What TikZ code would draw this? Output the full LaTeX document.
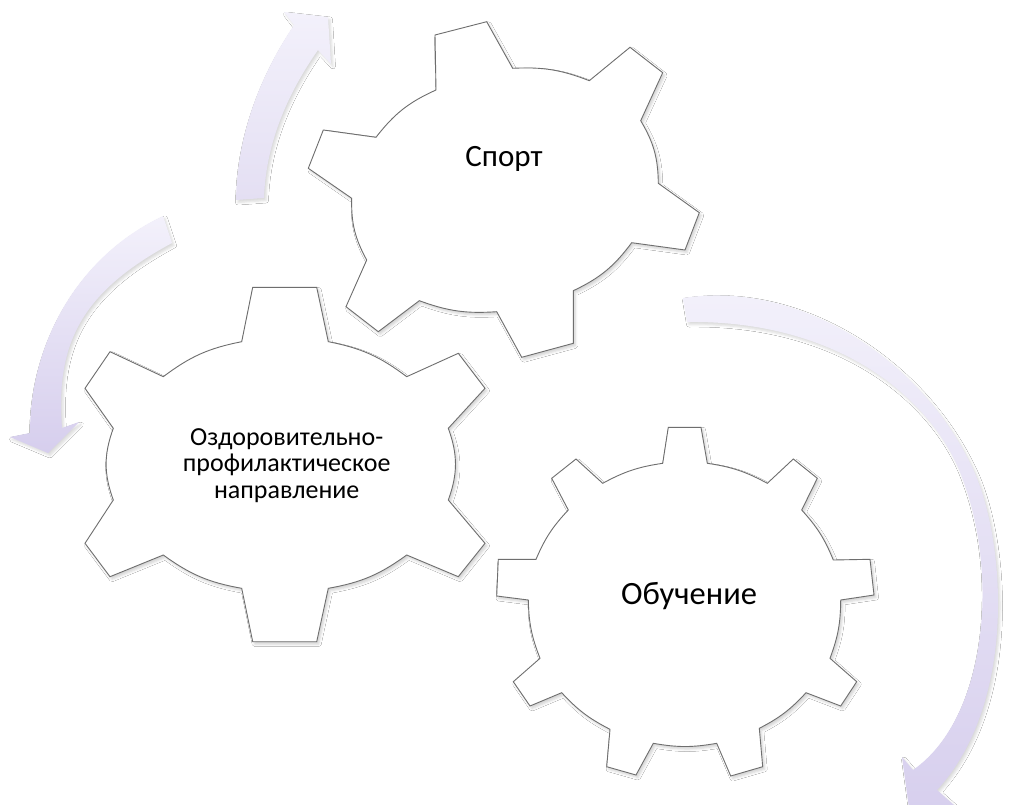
\documentclass[tikz,border=0pt]{standalone}
\usepackage{fontspec}
\setmainfont{Carlito}
\usetikzlibrary{shadows.blur}
\definecolor{arrowlight}{RGB}{243,241,251}
\definecolor{arrowmid}{RGB}{228,223,243}
\definecolor{arrowdark}{RGB}{214,206,237}
\definecolor{gearline}{RGB}{110,110,110}
\tikzset{
  gearshape/.style={draw=gearline, line width=0.9pt, fill=white, line join=miter,
    blur shadow={shadow xshift=2pt, shadow yshift=-2.5pt, shadow blur radius=2.5pt, shadow opacity=18}},
  cyclearrow/.style={draw=none,
    blur shadow={shadow xshift=2pt, shadow yshift=-2.5pt, shadow blur radius=2.5pt, shadow opacity=15}},
  geartext/.style={text=black, inner sep=0pt}
}
\begin{document}
\begin{tikzpicture}[x=1pt,y=1pt]
\useasboundingbox (0,0) rectangle (1009,-805);
\fill[white] (0,0) rectangle (1009,-805);
\begin{scope}
\clip (0,0) rectangle (1009,-805);
% arrow 1 (top, pointing up-right)
\shade[cyclearrow, top color=arrowlight, bottom color=arrowmid]
  (236,-200) .. controls (237,-140) and (257,-80) .. (294,-25)
  -- (284,-12) -- (328,-17) -- (331,-64) -- (318,-50)
  .. controls (290,-90) and (266,-140) .. (264,-198) -- cycle;
% arrow 2 (left, pointing down)
\shade[cyclearrow, top color=arrowlight, bottom color=arrowdark]
  (163,-216) .. controls (80,-255) and (30,-340) .. (30,-433)
  -- (10,-437) -- (48,-453) -- (79,-422) -- (62,-428)
  .. controls (55,-340) and (85,-290) .. (172,-243) -- cycle;
% arrow 3 (right, pointing down-left)
\shade[cyclearrow, top color=arrowlight, bottom color=arrowdark]
  (683,-298) .. controls (800,-280) and (920,-360) .. (970,-463)
  .. controls (1005,-530) and (1020,-700) .. (937,-790)
  -- (955,-806) -- (912,-830) -- (902,-757) -- (913,-770)
  .. controls (985,-720) and (1000,-580) .. (963,-480)
  .. controls (935,-400) and (840,-320) .. (687,-322) -- cycle;
\end{scope}
% gear: Оздоровительно-профилактическое направление
\path[gearshape]
  (241.7,-341.7) -- (252.7,-287.3) -- (316.7,-287.3) -- (328.3,-341.7)
  to[bend left=13] (406.7,-376.7) -- (458.3,-353.3) -- (485,-388.3) -- (448.3,-428.3)
  to[bend left=20] (448.3,-500) -- (485,-543.3) -- (458.3,-576.7) -- (406.7,-555)
  to[bend left=13] (328.3,-588.3) -- (316.7,-641.7) -- (252.7,-641.7) -- (241.7,-588.3)
  to[bend left=13] (163.3,-555) -- (110,-576.7) -- (85,-543.3) -- (113.3,-500)
  to[bend left=20] (113.3,-428.3) -- (85,-388.3) -- (110,-351.7) -- (163.3,-376.7)
  to[bend left=13] (241.7,-341.7) -- cycle;
% gear: Спорт
\path[gearshape]
  (436,-90) -- (435,-35) -- (486.7,-21.7) -- (512.7,-68.3)
  to[bend left=12] (589.3,-80.7) -- (630,-47.3) -- (662.7,-72.7) -- (640.7,-120.7)
  to[bend left=15] (658.3,-183.3) -- (699.3,-212.7) -- (685,-250) -- (631.7,-242.7)
  to[bend left=14] (573.3,-290.7) -- (573.3,-343.3) -- (521.7,-357.3) -- (496.7,-311.7)
  to[bend left=12] (419.3,-300.7) -- (378.3,-331.7) -- (346,-306.7) -- (366.7,-260)
  to[bend left=15] (351.7,-198.3) -- (308.3,-168.3) -- (323.3,-130) -- (376,-137.3)
  to[bend left=14] (436,-90) -- cycle;
% gear: Обучение
\path[gearshape]
  (662.7,-463.3) -- (668.3,-427.3) -- (701,-427.3) -- (707.3,-463.3)
  to[bend left=10] (767.3,-483.3) -- (793.3,-459) -- (817.3,-478.3) -- (801.7,-510)
  to[bend left=10] (833.3,-560) -- (870,-559.3) -- (874,-595) -- (840.7,-600)
  to[bend left=10] (830,-658.3) -- (856.7,-681.7) -- (840.7,-706) -- (806,-692.7)
  to[bend left=10] (759.3,-728.3) -- (762.7,-766.7) -- (730.7,-776) -- (716.7,-743.3)
  to[bend left=10] (653.3,-743.3) -- (636,-775) -- (606.7,-766.7) -- (610,-729.3)
  to[bend left=10] (561.7,-692.7) -- (530,-706) -- (513.3,-681.7) -- (540,-658.3)
  to[bend left=10] (528.3,-600) -- (496.7,-596) -- (498.3,-559.3) -- (536,-559.3)
  to[bend left=10] (568.3,-510) -- (551.7,-478.3) -- (576,-459) -- (602.7,-483.3)
  to[bend left=10] (662.7,-463.3) -- cycle;
% texts
\node[geartext, anchor=base, font=\fontsize{31}{36}\selectfont] (sport) at (504,-166.7) {Спорт};
\node[geartext, anchor=base, font=\fontsize{32.5}{38}\selectfont] (obuch) at (689,-604) {Обучение};
\node[geartext, anchor=base, align=center, font=\fontsize{26}{26.4}\selectfont] (ozd) at (286.7,-498.3)
  {Оздоровительно-\\профилактическое\\направление};
\end{tikzpicture}
\end{document}
